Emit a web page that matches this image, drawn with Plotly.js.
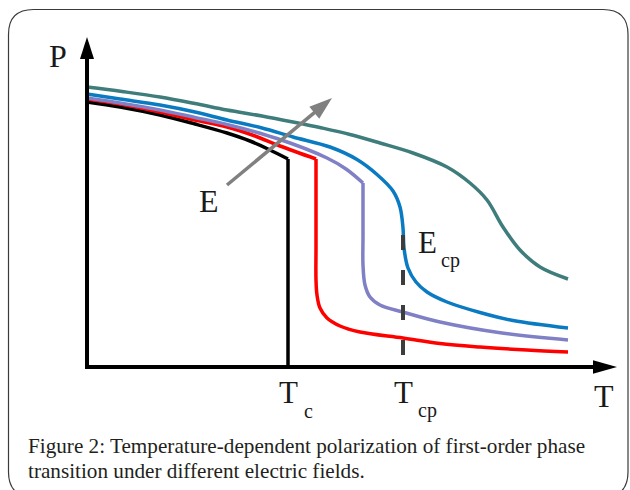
<!DOCTYPE html>
<html>
<head>
<meta charset="utf-8">
<script src="https://cdn.plot.ly/plotly-3.0.1.min.js"></script>
<style>html,body{margin:0;padding:0;background:#fff;}#chart{width:630px;height:490px;}</style>
</head>
<body>
<div id="chart"></div>
<script>
// ---- Data (T, P in arbitrary units) ----
const Tc = 4.02;
const Tcp = 6.32;

const T_black_upper = [0, 0.66, 1.46, 2.16, 2.80, 3.26, 3.66, 4.02];
const P_black_upper = [5.30, 5.20, 5.04, 4.86, 4.68, 4.52, 4.34, 4.16];
const T_black_drop = [4.02, 4.02];
const P_black_drop = [4.16, 0];

const T_red_upper = [0, 0.66, 1.46, 2.16, 2.80, 3.36, 3.86, 4.58];
const P_red_upper = [5.36, 5.26, 5.10, 4.94, 4.80, 4.62, 4.42, 4.16];
const T_red_drop = [4.58, 4.58, 4.58, 4.60, 4.66, 4.80, 5.06, 5.46, 6.32, 7.06, 7.86, 8.80, 9.62];
const P_red_drop = [4.16, 2.40, 1.74, 1.44, 1.18, 0.98, 0.82, 0.70, 0.58, 0.47, 0.40, 0.34, 0.30];

const T_purple_upper = [0, 0.66, 1.46, 2.16, 2.80, 3.80, 4.80, 5.18, 5.52];
const P_purple_upper = [5.38, 5.28, 5.14, 4.99, 4.85, 4.57, 4.18, 3.96, 3.68];
const T_purple_drop = [5.52, 5.52, 5.52, 5.56, 5.66, 5.86, 6.32, 7.06, 8.30, 9.62];
const P_purple_drop = [3.68, 2.60, 2.04, 1.64, 1.40, 1.24, 1.10, 0.90, 0.68, 0.54];

const T_blue = [0, 0.66, 1.46, 2.16, 2.80, 3.50, 4.12, 4.86, 5.40, 5.80, 6.12, 6.26, 6.32, 6.34, 6.42, 6.58, 6.80, 7.20, 7.86, 8.52, 9.62];
const P_blue = [5.46, 5.36, 5.24, 5.10, 4.94, 4.78, 4.60, 4.40, 4.15, 3.85, 3.52, 3.20, 2.78, 2.38, 1.98, 1.70, 1.50, 1.30, 1.09, 0.93, 0.78];

const T_teal = [0, 0.70, 1.46, 2.16, 2.80, 3.50, 4.12, 4.70, 5.26, 5.86, 6.52, 7.20, 7.66, 8.00, 8.32, 8.66, 9.06, 9.62];
const P_teal = [5.60, 5.51, 5.40, 5.27, 5.14, 5.02, 4.90, 4.78, 4.65, 4.48, 4.28, 4.00, 3.68, 3.34, 2.80, 2.34, 2.00, 1.76];

const T_cp_mark = [Tcp, Tcp];
const P_cp_mark = [0.24, 2.64];

// ---- helpers: page pixel -> data units (50 px per unit) ----
const X0 = 87, Y0 = 367, S = 50;
const px = v => (v - X0) / S;
const py = v => (Y0 - v) / S;

function curve(x, y, color, shape) {
  return {x: x, y: y, mode: 'lines', hoverinfo: 'skip',
    line: {color: color, width: 3.5, shape: shape || 'spline', smoothing: 1}};
}

const C_black = '#000000', C_red = '#ff0000', C_purple = '#8080c6', C_blue = '#0a7bc2', C_teal = '#3e7d7b';

const traces = [
  curve(T_black_upper, P_black_upper, C_black),
  curve(T_black_drop, P_black_drop, C_black, 'linear'),
  curve(T_red_upper, P_red_upper, C_red),
  curve(T_red_drop, P_red_drop, C_red),
  curve(T_purple_upper, P_purple_upper, C_purple),
  curve(T_purple_drop, P_purple_drop, C_purple),
  curve(T_blue, P_blue, C_blue),
  curve(T_teal, P_teal, C_teal),
  {x: T_cp_mark, y: P_cp_mark, mode: 'lines', hoverinfo: 'skip',
   line: {color: '#3d3d3d', width: 4, dash: '15px,20px'}}
];

// ---- shapes: frame, axes with arrowheads, field arrow ----
function tri(tip, dir, len, half) {
  const bx = tip[0] - dir[0] * len, by = tip[1] - dir[1] * len;
  const nx = -dir[1], ny = dir[0];
  return 'M' + tip[0] + ',' + tip[1] + ' L' + (bx + nx * half) + ',' + (by + ny * half) +
         ' L' + (bx - nx * half) + ',' + (by - ny * half) + ' Z';
}
const L = px(8.5), R = px(628), Tp = py(9.5), B = py(497), r = 0.5;
const framePath = 'M' + L + ',' + (Tp - r) + ' Q' + L + ',' + Tp + ' ' + (L + r) + ',' + Tp +
  ' L' + (R - r) + ',' + Tp + ' Q' + R + ',' + Tp + ' ' + R + ',' + (Tp - r) +
  ' L' + R + ',' + (B + r) + ' Q' + R + ',' + B + ' ' + (R - r) + ',' + B +
  ' L' + (L + r) + ',' + B + ' Q' + L + ',' + B + ' ' + L + ',' + (B + r) + ' Z';

const tail = [px(227), py(185)], tip = [px(332), py(98)];
const dx = tip[0] - tail[0], dy = tip[1] - tail[1], dl = Math.hypot(dx, dy);
const dir = [dx / dl, dy / dl];
const headLen = 0.46, headHalf = 0.155;

const shapes = [
  {type: 'path', path: framePath, line: {color: '#3a3a3a', width: 1.2}, layer: 'below'},
  {type: 'line', x0: 0, x1: 0, y0: -0.04, y1: py(56), line: {color: '#000', width: 4}, layer: 'above'},
  {type: 'path', path: tri([0, py(37)], [0, 1], 0.44, 0.14), fillcolor: '#000', line: {width: 0}, layer: 'above'},
  {type: 'line', x0: -0.04, x1: px(594), y0: 0, y1: 0, line: {color: '#000', width: 4}, layer: 'above'},
  {type: 'path', path: tri([px(617), 0], [1, 0], 0.48, 0.135), fillcolor: '#000', line: {width: 0}, layer: 'above'},
  {type: 'line', x0: tail[0], y0: tail[1], x1: tip[0] - dir[0] * (headLen - 0.05), y1: tip[1] - dir[1] * (headLen - 0.05),
   line: {color: '#808080', width: 3.5}, layer: 'above'},
  {type: 'path', path: tri(tip, dir, headLen, headHalf), fillcolor: '#808080', line: {width: 0}, layer: 'above'}
];

const SERIF = 'Liberation Serif, Times New Roman, serif';
function lab(text, x, y, size, xanchor) {
  return {text: text, x: px(x), y: py(y), xref: 'x', yref: 'y', showarrow: false,
    xanchor: xanchor || 'center', yanchor: 'middle',
    font: {family: SERIF, size: size, color: '#1a1a1a'}};
}

const annotations = [
  lab('P', 58, 56, 32),
  lab('E', 208.5, 201, 32),
  lab('E', 427, 242.5, 31),
  lab('cp', 450, 260.5, 20),
  lab('T', 288.5, 392.5, 31),
  lab('c', 308.5, 410.5, 20),
  lab('T', 403.5, 392.5, 31),
  lab('cp', 427.5, 410.5, 20),
  lab('T', 604, 396, 32),
  {text: 'Figure 2: Temperature-dependent polarization of first-order phase', x: px(26), y: py(446),
   xref: 'x', yref: 'y', showarrow: false, xanchor: 'left', yanchor: 'middle',
   font: {family: SERIF, size: 21.2, color: '#231f20'}},
  {text: 'transition under different electric fields.', x: px(26), y: py(471),
   xref: 'x', yref: 'y', showarrow: false, xanchor: 'left', yanchor: 'middle',
   font: {family: SERIF, size: 21.2, color: '#231f20'}}
];

const layout = {
  width: 630, height: 490,
  margin: {l: 0, r: 0, t: 0, b: 0, pad: 0},
  paper_bgcolor: '#ffffff', plot_bgcolor: '#ffffff',
  showlegend: false,
  xaxis: {range: [px(0), px(630)], visible: false, fixedrange: true},
  yaxis: {range: [py(490), py(0)], visible: false, fixedrange: true},
  shapes: shapes,
  annotations: annotations
};

Plotly.newPlot('chart', traces, layout, {staticPlot: true, displayModeBar: false});
</script>
</body>
</html>
